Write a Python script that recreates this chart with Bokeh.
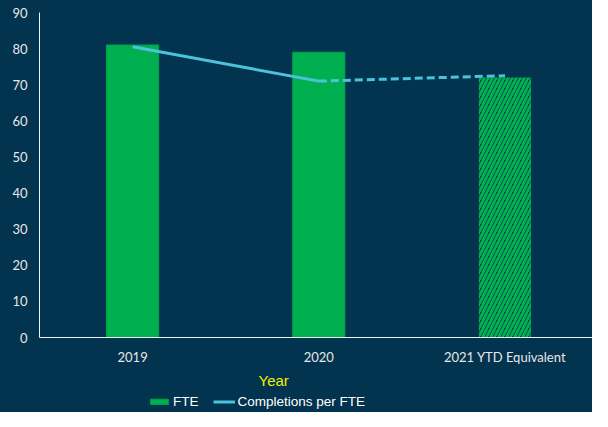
from bokeh.plotting import figure
from bokeh.layouts import column
from bokeh.models import Range1d, FixedTicker, ColumnDataSource, Legend, LegendItem, Title
from bokeh.embed import file_html
from bokeh.resources import INLINE

years = ["2019", "2020", "2021 YTD Equivalent"]
fte = [81, 79, 72]
completions_per_fte = [80.5, 71, 72.5]
projected = [False, False, True]

BG = "#02334F"
GREEN = "#00B050"
CYAN = "#4CC3DA"
TXT = "#E8E8E8"

idx = list(range(len(years)))
actual_idx = [i for i in idx if not projected[i]]
proj_idx = [i for i in idx if projected[i]]

bar_actual = ColumnDataSource(dict(x=actual_idx, top=[fte[i] for i in actual_idx]))
bar_proj = ColumnDataSource(dict(x=proj_idx, top=[fte[i] for i in proj_idx]))

last_actual = actual_idx[-1]
line_actual = ColumnDataSource(dict(x=actual_idx, y=[completions_per_fte[i] for i in actual_idx]))
line_proj = ColumnDataSource(dict(x=[last_actual] + proj_idx,
                                  y=[completions_per_fte[i] for i in [last_actual] + proj_idx]))

p = figure(frame_width=553, frame_height=325, x_range=Range1d(-0.5, 2.47), y_range=Range1d(0, 90),
           output_backend="svg", toolbar_location=None,
           background_fill_color=BG, border_fill_color=BG, outline_line_color=None,
           min_border_left=39, min_border_top=12, min_border_right=0, min_border_bottom=0)

bar_style = dict(fill_color=GREEN, line_color="#00A449", line_width=1)
line_style = dict(line_color=CYAN, line_width=3)

p.vbar(x="x", top="top", width=0.28, source=bar_actual, **bar_style)
p.vbar(x="x", top="top", width=0.28, source=bar_proj, fill_color=BG, line_color=None,
       hatch_pattern="/", hatch_color=GREEN, hatch_scale=8, hatch_weight=3)

p.line(x="x", y="y", source=line_actual, **line_style)
p.line(x="x", y="y", source=line_proj, line_dash="8 4", **line_style)

p.xgrid.visible = False
p.ygrid.visible = False

xa = p.xaxis[0]
xa.ticker = FixedTicker(ticks=idx)
xa.major_label_overrides = {i: years[i] for i in idx}
xa.axis_line_color = "#F0F0F0"
xa.major_tick_line_color = None
xa.minor_tick_line_color = None
xa.major_tick_out = 0
xa.major_tick_in = 0
xa.minor_tick_out = 0
xa.major_label_text_color = TXT
xa.major_label_text_font = "Lato"
xa.major_label_text_font_size = "13px"
xa.major_label_standoff = 11

ya = p.yaxis[0]
ya.ticker = FixedTicker(ticks=list(range(0, 91, 10)))
ya.axis_line_color = "#F0F0F0"
ya.major_tick_line_color = None
ya.minor_tick_line_color = None
ya.major_tick_out = 0
ya.major_tick_in = 0
ya.minor_tick_out = 0
ya.major_label_text_color = TXT
ya.major_label_text_font = "Lato"
ya.major_label_text_font_size = "13px"
ya.major_label_standoff = 12

year_title = Title(text="Year", align="left", offset=219, standoff=4,
                   text_color="#F0F000", text_font="Liberation Sans", text_font_size="15px",
                   text_font_style="normal")
p.add_layout(year_title, "below")

# legend strip: same glyph styles, glyphs kept outside the visible range
lg = figure(width=592, height=22, x_range=Range1d(0, 1), y_range=Range1d(0, 1),
            output_backend="svg", toolbar_location=None,
            x_axis_location=None, y_axis_location=None,
            background_fill_color=BG, border_fill_color=BG, outline_line_color=None,
            min_border=0)
lg.xgrid.visible = False
lg.ygrid.visible = False
hidden_bar = ColumnDataSource(dict(x=[-10], top=[-10]))
hidden_line = ColumnDataSource(dict(x=[-10, -9], y=[-10, -10]))
r_bar = lg.vbar(x="x", top="top", bottom=-11, width=0.1, source=hidden_bar, **bar_style)
r_line = lg.line(x="x", y="y", source=hidden_line, **line_style)

legend = Legend(items=[LegendItem(label="FTE", renderers=[r_bar]),
                       LegendItem(label="Completions per FTE", renderers=[r_line])],
                orientation="horizontal", location=(109, 3),
                background_fill_alpha=0, border_line_color=None,
                label_text_color="white", label_text_font="Liberation Sans",
                label_text_font_size="13.5px", glyph_width=22, glyph_height=7,
                label_standoff=3, spacing=14, padding=0, margin=0)
lg.add_layout(legend, "center")

layout = column(p, lg, spacing=0, styles={"background-color": BG})
open("out.html", "w").write(file_html(layout, INLINE))
